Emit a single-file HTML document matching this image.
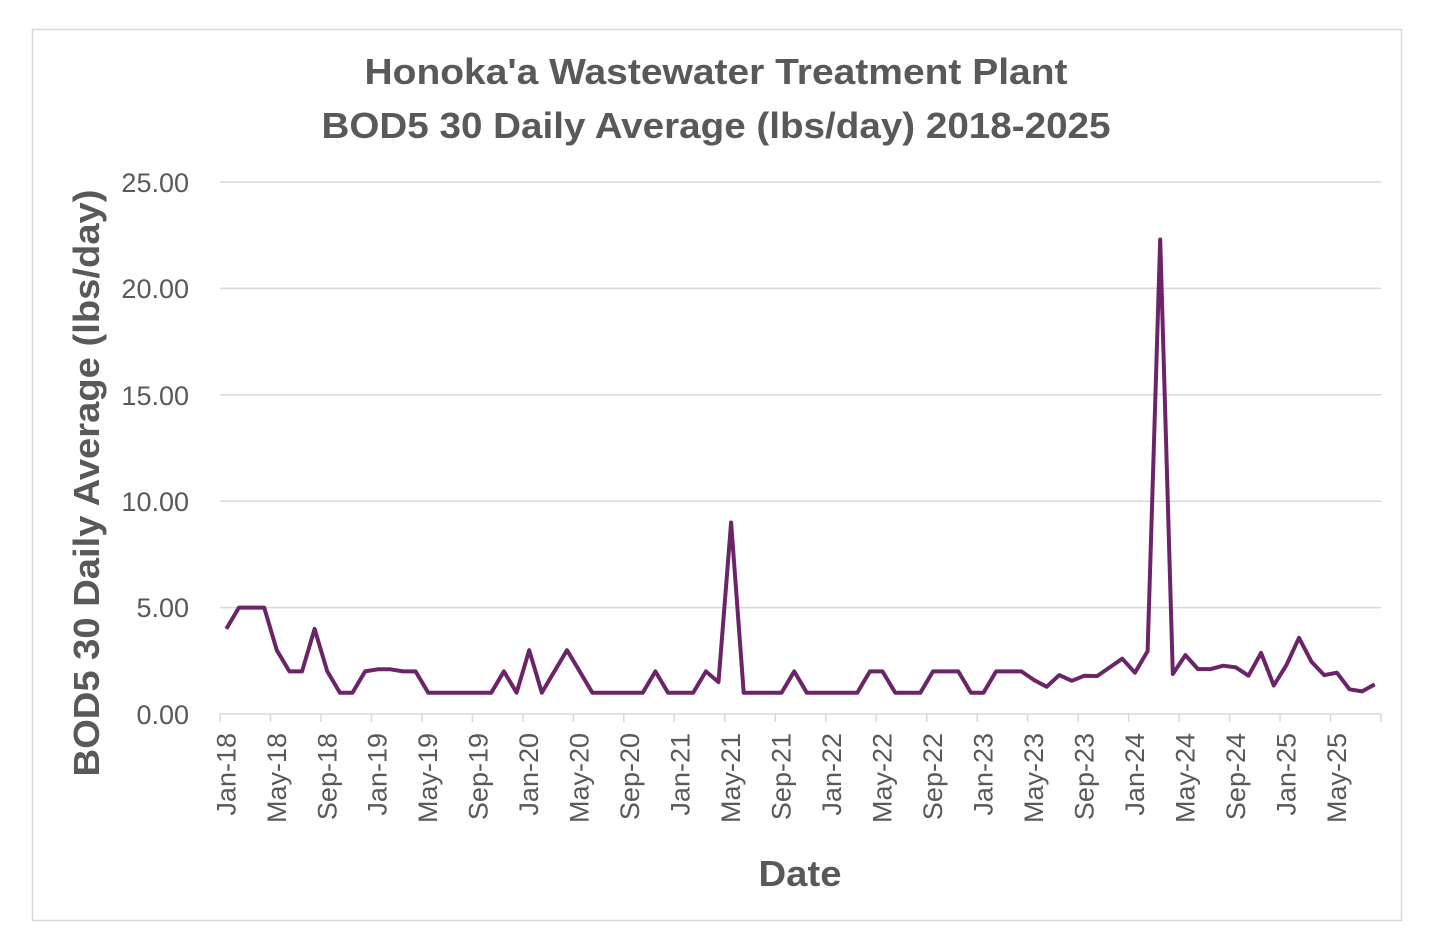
<!DOCTYPE html>
<html><head><meta charset="utf-8"><style>
html,body{margin:0;padding:0;background:#fff;}
svg{display:block;font-family:"Liberation Sans",Arial,sans-serif;}
</style></head><body>
<svg width="1430" height="942" viewBox="0 0 1430 942" xmlns="http://www.w3.org/2000/svg">
<rect x="0" y="0" width="1430" height="942" fill="#fff"/>
<rect x="32.5" y="29.5" width="1369" height="891" fill="none" stroke="#d9d9d9" stroke-width="1.5"/>
<g fill="#595959" font-weight="bold" font-size="36">
<text x="716" y="84" text-anchor="middle" textLength="703" lengthAdjust="spacingAndGlyphs">Honoka'a Wastewater Treatment Plant</text>
<text x="716" y="138" text-anchor="middle" textLength="789" lengthAdjust="spacingAndGlyphs">BOD5 30 Daily Average (lbs/day) 2018-2025</text>
<text x="800" y="886" text-anchor="middle" textLength="83" lengthAdjust="spacingAndGlyphs">Date</text>
<text transform="translate(99,483) rotate(-90)" text-anchor="middle" textLength="587" lengthAdjust="spacingAndGlyphs">BOD5 30 Daily Average (lbs/day)</text>
</g>
<g stroke="#d9d9d9" stroke-width="1.5">
<line x1="220" y1="182" x2="1381" y2="182"/>
<line x1="220" y1="288.4" x2="1381" y2="288.4"/>
<line x1="220" y1="394.8" x2="1381" y2="394.8"/>
<line x1="220" y1="501.2" x2="1381" y2="501.2"/>
<line x1="220" y1="607.6" x2="1381" y2="607.6"/>
<line x1="220" y1="714" x2="1381" y2="714"/>
</g>
<g fill="#595959" font-size="27" text-anchor="end">
<text x="189" y="192">25.00</text>
<text x="189" y="298">20.00</text>
<text x="189" y="405">15.00</text>
<text x="189" y="511">10.00</text>
<text x="189" y="617">5.00</text>
<text x="189" y="724">0.00</text>
</g>
<g id="ticks" stroke="#d9d9d9" stroke-width="1.5"></g>
<g id="xl" fill="#595959" font-size="27" text-anchor="end"></g>
<polyline id="ln" fill="none" stroke="#6b2468" stroke-width="4" stroke-linejoin="round" points=""/>
</svg>
<script>
var v=[4,5,5,5,3,2,2,4,2,1,1,2,2.1,2.1,2,2,1,1,1,1,1,1,2,1,3,1,2,3,2,1,1,1,1,1,2,1,1,1,2,1.5,9,1,1,1,1,2,1,1,1,1,1,2,2,1,1,1,2,2,2,1,1,2,2,2,1.6,1.28,1.83,1.56,1.8,1.78,2.19,2.6,1.94,2.95,22.3,1.88,2.77,2.11,2.11,2.27,2.19,1.8,2.87,1.34,2.3,3.58,2.45,1.83,1.94,1.16,1.06,1.39];
var p=[];for(var i=0;i<v.length;i++){p.push((226.3+12.62*i).toFixed(1)+","+(714-v[i]*21.28).toFixed(1));}
document.getElementById("ln").setAttribute("points",p.join(" "));
var ns="http://www.w3.org/2000/svg",t=document.getElementById("ticks"),xl=document.getElementById("xl");
for(var k=0;k<=23;k++){var l=document.createElementNS(ns,"line");var x=220+50.48*k;l.setAttribute("x1",x);l.setAttribute("x2",x);l.setAttribute("y1",714);l.setAttribute("y2",722);t.appendChild(l);}
var m=["Jan","May","Sep"];
for(var k=0;k<23;k++){var x=226.3+12.62*4*k+9;var yr=18+Math.floor(k/3);var tx=document.createElementNS(ns,"text");tx.setAttribute("transform","translate("+x.toFixed(1)+",733) rotate(-90)");tx.textContent=m[k%3]+"-"+yr;xl.appendChild(tx);}
</script>
</body></html>
